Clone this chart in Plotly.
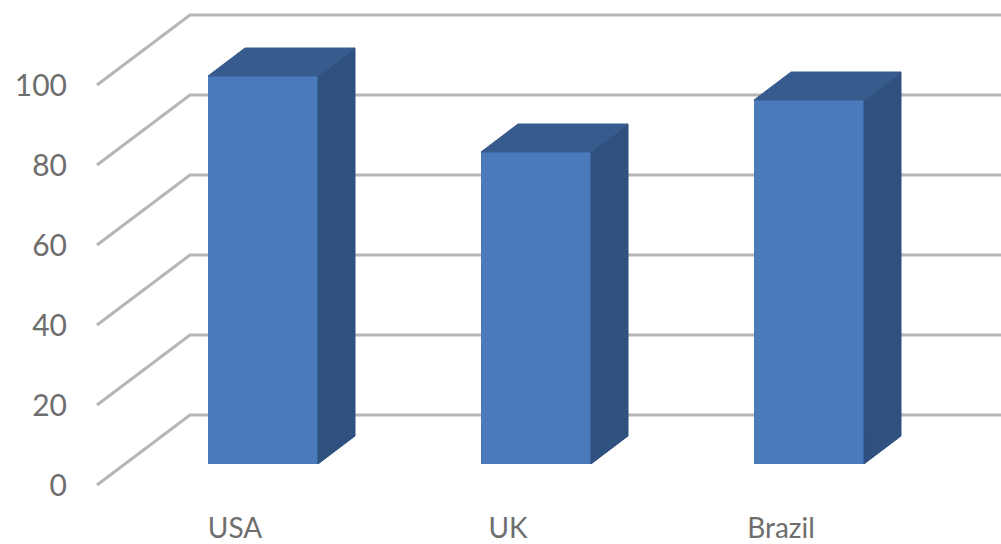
import plotly.graph_objects as go

categories = ["USA", "UK", "Brazil"]
values = [97, 78, 91]
tick_values = [0, 20, 40, 60, 80, 100]

# Chart geometry: 3D look, expressed in axis units
BAR_W = 0.403
DEPTH_X = 37 / 273
DEPTH_Y = 7.0
WALL_X0 = (97 - 263) / 273
WALL_X1 = (190 - 263) / 273
WALL_XEND = (1001 - 263) / 273
FRONT_SHIFT = -5.25
BACK_SHIFT = 12.25
LABEL_SHIFT = -28 / 273

FRONT = "#4a7aba"
SIDE = "#2f5180"
TOP = "#365b8c"
GRID = "#b6b6b6"
TEXT = "#6e6e6e"

fig = go.Figure()

for v in tick_values:
    fig.add_shape(
        type="path", xref="x", yref="y", layer="below",
        path=f"M {WALL_X0} {v + FRONT_SHIFT} L {WALL_X1} {v + BACK_SHIFT} L {WALL_XEND} {v + BACK_SHIFT}",
        line=dict(color=GRID, width=3))

for i, val in enumerate(values):
    l, r = i - BAR_W / 2, i + BAR_W / 2
    fig.add_trace(go.Scatter(
        x=[r, r + DEPTH_X, r + DEPTH_X, r, r],
        y=[0, DEPTH_Y, val + DEPTH_Y, val, 0],
        mode="lines", fill="toself", fillcolor=SIDE,
        line=dict(color=SIDE, width=1), hoverinfo="skip", showlegend=False))
    fig.add_trace(go.Scatter(
        x=[l, r, r + DEPTH_X, l + DEPTH_X, l],
        y=[val, val, val + DEPTH_Y, val + DEPTH_Y, val],
        mode="lines", fill="toself", fillcolor=TOP,
        line=dict(color=TOP, width=1), hoverinfo="skip", showlegend=False))

fig.add_trace(go.Bar(
    x=list(range(len(categories))), y=values, width=BAR_W,
    marker=dict(color=FRONT, line=dict(width=0)), showlegend=False))

fig.update_layout(
    width=1001, height=544, autosize=False,
    margin=dict(l=80, r=0, t=0, b=44),
    paper_bgcolor="white", plot_bgcolor="white",
    font=dict(family="Lato, Open Sans, sans-serif", color=TEXT, size=30),
    xaxis=dict(
        range=[(80 - 263) / 273, WALL_XEND], automargin=False,
        tickvals=[i + LABEL_SHIFT for i in range(len(categories))],
        ticktext=categories, tickfont=dict(size=28),
        ticks="outside", ticklen=3, tickcolor="rgba(0,0,0,0)",
        showgrid=False, zeroline=False, showline=False, fixedrange=True),
    yaxis=dict(
        range=[-9, 116], automargin=False,
        tickvals=[v + FRONT_SHIFT for v in tick_values],
        ticktext=[str(v) for v in tick_values], tickfont=dict(size=30),
        ticks="outside", ticklen=6, tickcolor="rgba(0,0,0,0)",
        showgrid=False, zeroline=False, showline=False, fixedrange=True),
)

fig.write_html("out.html", config=dict(displayModeBar=False),
               post_script="document.body.style.margin='0';")
